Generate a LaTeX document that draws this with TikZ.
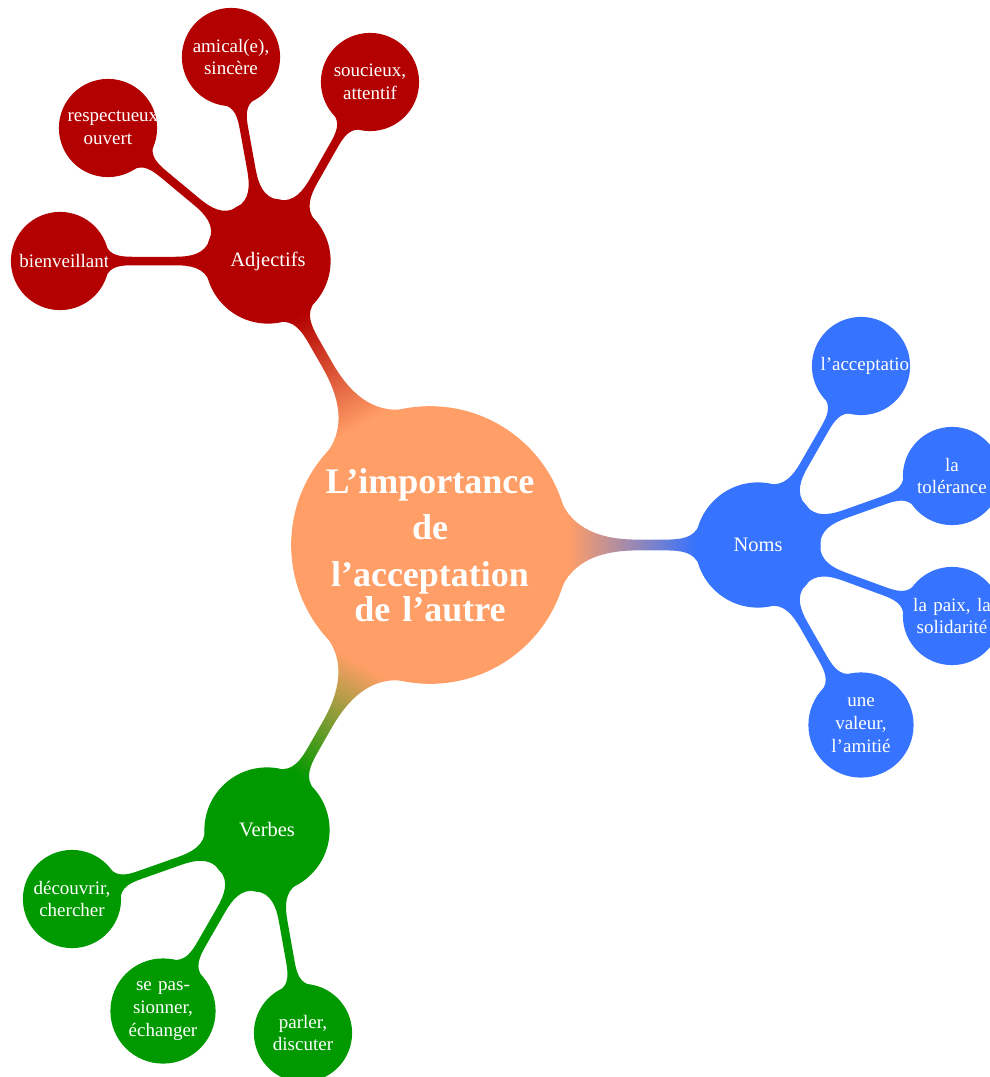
\documentclass[tikz,border=0pt]{standalone}
\usepackage{fontspec}
\setmainfont{Liberation Serif}
\usetikzlibrary{mindmap}

\definecolor{rootc}{RGB}{255,158,102}
\definecolor{adjc}{RGB}{179,0,0}
\definecolor{nomc}{RGB}{54,115,255}
\definecolor{verbc}{RGB}{0,153,0}

\begin{document}
\begin{tikzpicture}[mindmap, x=1pt, y=-1pt, text=white]
	\tikzstyle{rootnode} = [concept, concept color=rootc, minimum size=266pt, text width=230pt, inner sep=0pt, align=center, font=\bfseries\fontsize{36}{46.5}\selectfont]
	\tikzstyle{groupnode} = [concept, minimum size=124pt, text width=100pt, inner sep=0pt, align=center, font=\fontsize{20.5}{24}\selectfont]
	\tikzstyle{leafnode} = [concept, minimum size=97pt, text width=81pt, inner sep=0pt, align=center, font=\fontsize{19}{22.8}\selectfont]

	\useasboundingbox (0,0) rectangle (990,1077);

	\node [rootnode] (root) at (430,545) {L’importance\\de\\l’acceptation\\[-11.5pt]de l’autre};

	\node [groupnode, concept color=adjc] (adj) at (268,261) {Adjectifs};
	\node [leafnode, concept color=adjc] (bienv) at (60,261) {bienveillant};
	\node [leafnode, concept color=adjc] (respect) at (108,128) {respectueux,\\ouvert};
	\node [leafnode, concept color=adjc] (amical) at (231,57) {amical(e),\\sincère};
	\node [leafnode, concept color=adjc] (soucieux) at (370,82) {soucieux,\\attentif};

	\node [groupnode, concept color=nomc] (noms) at (758,545) {Noms};
	\node [leafnode, concept color=nomc] (accept) at (861,366) {l’acceptation};
	\node [leafnode, concept color=nomc] (toler) at (952,476) {la\\tolérance};
	\node [leafnode, concept color=nomc] (paix) at (952,616) {la paix, la\\solidarité};
	\node [leafnode, concept color=nomc, minimum size=104pt] (valeur) at (861,725) {une\\valeur,\\l’amitié};

	\node [groupnode, concept color=verbc] (verb) at (267,830) {Verbes};
	\node [leafnode, concept color=verbc] (decouv) at (72,899) {découvrir,\\chercher};
	\node [leafnode, concept color=verbc, minimum size=104pt] (passion) at (163,1011) {se pas-\\sionner,\\échanger};
	\node [leafnode, concept color=verbc] (parler) at (303,1033) {parler,\\discuter};

	\path (root) to[circle connection bar switch color=from (rootc) to (adjc)] (adj);
	\path (root) to[circle connection bar switch color=from (rootc) to (nomc)] (noms);
	\path (root) to[circle connection bar switch color=from (rootc) to (verbc)] (verb);

	\path [concept color=adjc] (adj) to[circle connection bar] (bienv);
	\path [concept color=adjc] (adj) to[circle connection bar] (respect);
	\path [concept color=adjc] (adj) to[circle connection bar] (amical);
	\path [concept color=adjc] (adj) to[circle connection bar] (soucieux);

	\path [concept color=nomc] (noms) to[circle connection bar] (accept);
	\path [concept color=nomc] (noms) to[circle connection bar] (toler);
	\path [concept color=nomc] (noms) to[circle connection bar] (paix);
	\path [concept color=nomc] (noms) to[circle connection bar] (valeur);

	\path [concept color=verbc] (verb) to[circle connection bar] (decouv);
	\path [concept color=verbc] (verb) to[circle connection bar] (passion);
	\path [concept color=verbc] (verb) to[circle connection bar] (parler);
\end{tikzpicture}
\end{document}
